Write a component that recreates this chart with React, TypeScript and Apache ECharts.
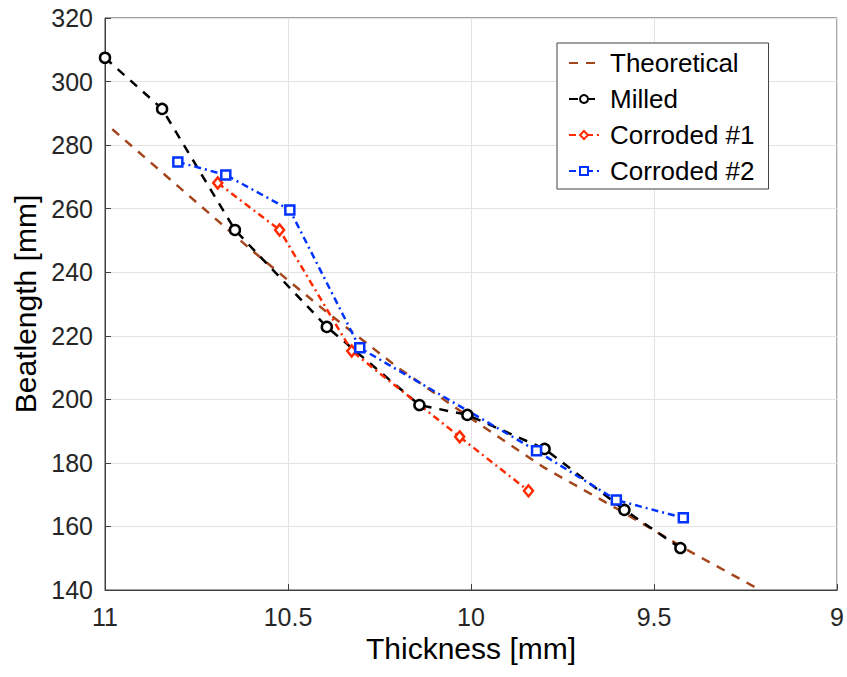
import React, { useEffect, useRef } from "react";
import * as echarts from "echarts";

// Theoretical curve
const theoThickness = [10.98, 10.8, 10.6, 10.4, 10.2, 10.0, 9.8, 9.6, 9.4, 9.21];
const theoBeat = [285, 267, 247, 228, 210, 194, 178.5, 165.5, 152, 140];

// Milled
const milledThickness = [11.0, 10.844, 10.645, 10.394, 10.141, 10.01, 9.799, 9.581, 9.428];
const milledBeat = [307.5, 291.4, 253.3, 222.8, 198.2, 195.1, 184.4, 165.2, 153.2];

// Corroded #1
const c1Thickness = [10.692, 10.523, 10.326, 10.031, 9.843];
const c1Beat = [268.1, 253.3, 215.2, 188.2, 171.2];

// Corroded #2
const c2Thickness = [10.801, 10.67, 10.495, 10.304, 9.821, 9.603, 9.42];
const c2Beat = [274.7, 270.6, 259.6, 216.2, 183.8, 168.3, 162.7];

const xTicks = [9, 9.5, 10, 10.5, 11];
const yTicks = [140, 160, 180, 200, 220, 240, 260, 280, 300, 320];

const FONT = "'Liberation Sans', Arial, Helvetica, sans-serif";
const AXIS = "#404040";

const zip = (a: number[], b: number[]) => a.map((v, i) => [v, b[i]]);

export default function App() {
  const ref = useRef<HTMLDivElement>(null);
  useEffect(() => {
    if (!ref.current) return;
    const chart = echarts.init(ref.current, undefined, { renderer: "svg" });
    chart.setOption({
      animation: false,
      backgroundColor: "#ffffff",
      textStyle: { fontFamily: FONT },
      grid: {
        left: 105,
        top: 18,
        width: 733,
        height: 572,
        show: true,
        borderColor: AXIS,
        borderWidth: 1,
        backgroundColor: "transparent",
      },
      legend: {
        orient: "vertical",
        left: 557,
        top: 43,
        padding: [7, 14, 5, 11],
        itemGap: 10,
        itemWidth: 30,
        itemHeight: 10,
        borderColor: AXIS,
        borderWidth: 1,
        backgroundColor: "#ffffff",
        textStyle: {
          fontFamily: FONT,
          fontSize: 26,
          color: "#000000",
          lineHeight: 24,
          padding: [0, 0, 0, 6],
        },
        data: [
          { name: "Theoretical", itemStyle: { opacity: 0 } },
          "Milled",
          "Corroded #1",
          "Corroded #2",
        ],
      },
      xAxis: {
        type: "value",
        min: xTicks[0],
        max: xTicks[xTicks.length - 1],
        interval: 0.5,
        inverse: true,
        name: "Thickness [mm]",
        nameLocation: "middle",
        nameGap: 36,
        nameTextStyle: { fontFamily: FONT, fontSize: 30, color: "#000000" },
        axisLine: { show: true, onZero: false, lineStyle: { color: AXIS, width: 1 } },
        axisTick: { show: true, inside: true, length: 6, lineStyle: { color: AXIS } },
        axisLabel: {
          fontFamily: FONT,
          fontSize: 25,
          color: "#262626",
          margin: 14,
          formatter: (v: number) => String(v),
        },
        splitLine: { show: true, lineStyle: { color: "#e3e3e3", width: 1 } },
      },
      yAxis: {
        type: "value",
        min: yTicks[0],
        max: yTicks[yTicks.length - 1],
        interval: 20,
        name: "Beatlength [mm]",
        nameLocation: "middle",
        nameGap: 62,
        nameTextStyle: { fontFamily: FONT, fontSize: 30, color: "#000000" },
        axisLine: { show: true, onZero: false, lineStyle: { color: AXIS, width: 1 } },
        axisTick: { show: true, inside: true, length: 6, lineStyle: { color: AXIS } },
        axisLabel: { fontFamily: FONT, fontSize: 25, color: "#262626", margin: 12 },
        splitLine: { show: true, lineStyle: { color: "#e3e3e3", width: 1 } },
      },
      series: [
        {
          name: "Theoretical",
          type: "line",
          data: zip(theoThickness, theoBeat),
          symbol: "none",
          color: "#a4461c",
          itemStyle: { opacity: 0 },
          lineStyle: { color: "#a4461c", width: 2.5, type: [9, 8] },
        },
        {
          name: "Milled",
          type: "line",
          data: zip(milledThickness, milledBeat),
          symbol: "circle",
          symbolSize: 10,
          color: "#000000",
          itemStyle: { color: "#ffffff", borderColor: "#000000", borderWidth: 2.5 },
          lineStyle: { color: "#000000", width: 2.5, type: [9, 8] },
        },
        {
          name: "Corroded #1",
          type: "line",
          data: zip(c1Thickness, c1Beat),
          symbol: "diamond",
          symbolSize: [9, 11],
          color: "#ff2a00",
          itemStyle: { color: "#ffffff", borderColor: "#ff2a00", borderWidth: 2.5 },
          lineStyle: { color: "#ff2a00", width: 2.5, type: [7, 4, 2, 4] },
        },
        {
          name: "Corroded #2",
          type: "line",
          data: zip(c2Thickness, c2Beat),
          symbol: "rect",
          symbolSize: 9,
          color: "#0033ff",
          itemStyle: { color: "#ffffff", borderColor: "#0033ff", borderWidth: 2.5 },
          lineStyle: { color: "#0033ff", width: 2.5, type: [7, 4, 2, 4] },
        },
      ],
    });
    return () => chart.dispose();
  }, []);
  return (
    <div
      ref={ref}
      style={{ position: "fixed", left: 0, top: 0, width: 847, height: 677, background: "#fff" }}
    />
  );
}
